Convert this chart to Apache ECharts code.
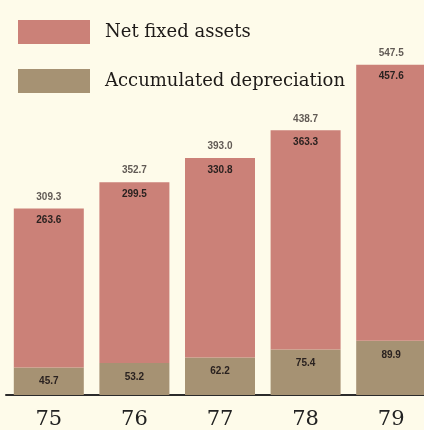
<!DOCTYPE html>
<html>
<head>
<meta charset="utf-8">
<script src="https://cdn.jsdelivr.net/npm/echarts@6/dist/echarts.min.js"></script>
<style>
  html, body { margin: 0; padding: 0; background: #fefbea; overflow: hidden; }
  /* wider than the window so the last bar runs off the right edge like the scan */
  #chart { width: 434px; height: 430px; }
</style>
</head>
<body>
<div id="chart"></div>
<script>
var years = ['75', '76', '77', '78', '79']
var netFixedAssets = [263.6, 299.5, 330.8, 363.3, 457.6]
var accumDepreciation = [45.7, 53.2, 62.2, 75.4, 89.9]
var totals = [309.3, 352.7, 393.0, 438.7, 547.5]

var oChart = echarts.init(document.getElementById('chart'))

var labelFont = {
  fontFamily: 'Liberation Sans',
  fontSize: 10,
  fontWeight: 'bold',
  color: '#2a2220'
}

var opt = {
  backgroundColor: '#fefbea',
  animation: false,
  legend: {
    orient: 'vertical',
    left: 13,
    top: 15,
    itemWidth: 72,
    itemHeight: 24,
    itemGap: 25,
    icon: 'rect',
    data: ['Net fixed assets', 'Accumulated depreciation'],
    textStyle: {
      fontFamily: 'DejaVu Serif',
      fontSize: 18,
      color: '#1e1a18',
      padding: [10, 0, 0, 10]
    }
  },
  grid: {
    left: 6,
    right: 0,
    top: 33,
    bottom: 35
  },
  xAxis: {
    type: 'category',
    data: years,
    axisLine: { lineStyle: { color: '#2b2b2b', width: 2 } },
    axisTick: { show: false },
    axisLabel: {
      fontFamily: 'DejaVu Serif',
      fontSize: 21,
      color: '#222',
      margin: 14
    }
  },
  yAxis: {
    type: 'value',
    min: 0,
    max: 600,
    show: false,
    splitLine: { show: false }
  },
  series: [
    {
      name: 'Accumulated depreciation',
      type: 'bar',
      stack: 'total',
      barWidth: 70,
      itemStyle: { color: '#a69273' },
      label: Object.assign({ show: true, position: 'insideTop', distance: 9 }, labelFont),
      data: accumDepreciation
    },
    {
      name: 'Net fixed assets',
      type: 'bar',
      stack: 'total',
      barWidth: 70,
      itemStyle: { color: '#cb8178' },
      label: Object.assign({ show: true, position: 'insideTop', distance: 7 }, labelFont),
      data: netFixedAssets
    },
    {
      name: 'Total',
      type: 'scatter',
      symbolSize: 1,
      itemStyle: { color: 'transparent' },
      label: {
        show: true,
        position: 'top',
        distance: 6,
        fontFamily: 'Liberation Sans',
        fontSize: 10,
        fontWeight: 'bold',
        color: '#3a3230',
        formatter: function (p) { return p.value.toFixed(1) }
      },
      data: totals
    }
  ]
}

oChart.setOption(opt)
</script>
</body>
</html>
